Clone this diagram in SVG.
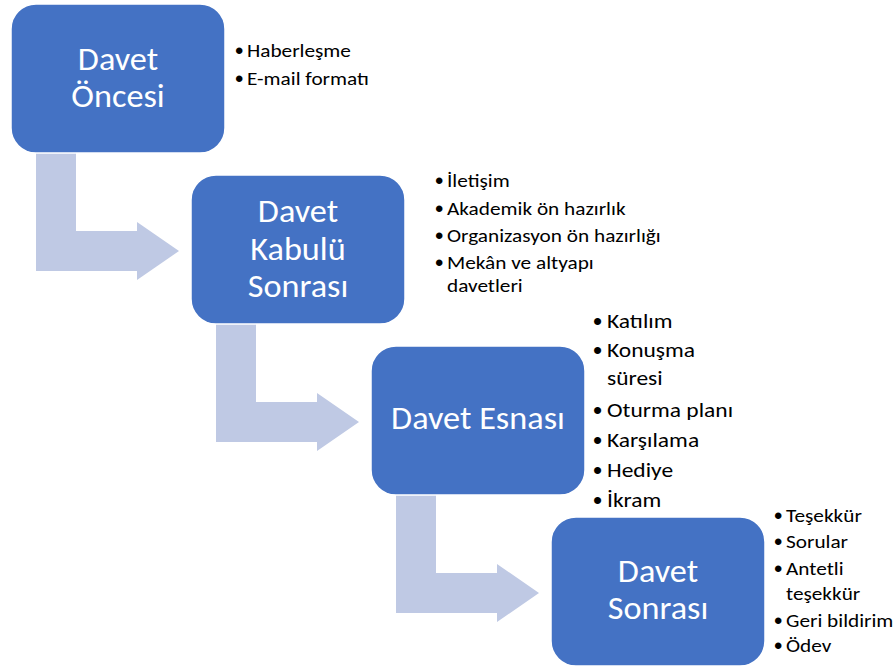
<svg xmlns="http://www.w3.org/2000/svg" width="893" height="670" viewBox="0 0 893 670">
  <style>
    .box { fill: #4472C4; stroke: #FFFFFF; stroke-width: 1.5; }
    .arrow { fill: #BFC9E4; }
    .title { font-family: Carlito, Calibri, Lato, "Liberation Sans", sans-serif; font-size: 32px; fill: #FFFFFF; text-anchor: middle; }
    .item { font-family: Carlito, Calibri, Lato, "Liberation Sans", sans-serif; fill: #000000; }
    .dot { font-family: "Liberation Sans", Arial, sans-serif; fill: #000000; font-size: 24px; }
    .s18 { font-size: 19px; }
    .s21 { font-size: 21px; }
  </style>
  <defs>
    <!-- bent step arrow, drawn from the lower-left of a box to the next box -->
    <path id="bend" d="M 25 146 V 267 H 126 V 276 L 168 247 L 126 218 V 227 H 65 V 146 Z"/>
  </defs>

  <g id="connectors">
    <use href="#bend" class="arrow" x="11" y="4"/>
    <use href="#bend" class="arrow" x="191" y="175"/>
    <use href="#bend" class="arrow" x="371" y="346"/>
  </g>

  <g id="step1">
    <rect class="box" x="11" y="4" width="214" height="149" rx="25"/>
    <g transform="translate(118,0) scale(1.07,1) translate(-118,0)">
      <text class="title" x="118" y="70">Davet</text>
      <text class="title" x="118" y="107">Öncesi</text>
    </g>
    <g class="dot">
      <text x="235" y="59">•</text>
      <text x="235" y="87">•</text>
    </g>
    <g class="item s18" transform="translate(247,0) scale(1.12,1) translate(-247,0)">
      <text x="247" y="57">Haberleşme</text>
      <text x="247" y="85">E-mail formatı</text>
    </g>
  </g>

  <g id="step2">
    <rect class="box" x="191" y="175" width="214" height="149" rx="25"/>
    <g transform="translate(298,0) scale(1.07,1) translate(-298,0)">
      <text class="title" x="298" y="222">Davet</text>
      <text class="title" x="298" y="260">Kabulü</text>
      <text class="title" x="298" y="297">Sonrası</text>
    </g>
    <g class="dot">
      <text x="435" y="189">•</text>
      <text x="435" y="217">•</text>
      <text x="435" y="244">•</text>
      <text x="435" y="271">•</text>
    </g>
    <g class="item s18" transform="translate(447,0) scale(1.12,1) translate(-447,0)">
      <text x="447" y="187">İletişim</text>
      <text x="447" y="215">Akademik ön hazırlık</text>
      <text x="447" y="242">Organizasyon ön hazırlığı</text>
      <text x="447" y="269">Mekân ve altyapı</text>
      <text x="447" y="292">davetleri</text>
    </g>
  </g>

  <g id="step3">
    <rect class="box" x="371" y="346" width="214" height="149" rx="25"/>
    <g transform="translate(478,0) scale(1.07,1) translate(-478,0)">
      <text class="title" x="478" y="429">Davet Esnası</text>
    </g>
    <g class="dot" style="font-size:26px">
      <text x="593" y="330">•</text>
      <text x="593" y="359">•</text>
      <text x="593" y="419">•</text>
      <text x="593" y="449">•</text>
      <text x="593" y="479">•</text>
      <text x="593" y="509">•</text>
    </g>
    <g class="item s21" transform="translate(607,0) scale(1.12,1) translate(-607,0)">
      <text x="607" y="328">Katılım</text>
      <text x="607" y="357">Konuşma</text>
      <text x="607" y="385">süresi</text>
      <text x="607" y="417">Oturma planı</text>
      <text x="607" y="447">Karşılama</text>
      <text x="607" y="477">Hediye</text>
      <text x="607" y="507">İkram</text>
    </g>
  </g>

  <g id="step4">
    <rect class="box" x="551" y="517" width="214" height="149" rx="25"/>
    <g transform="translate(658,0) scale(1.07,1) translate(-658,0)">
      <text class="title" x="658" y="582">Davet</text>
      <text class="title" x="658" y="619">Sonrası</text>
    </g>
    <g class="dot">
      <text x="774" y="524">•</text>
      <text x="774" y="550">•</text>
      <text x="774" y="577">•</text>
      <text x="774" y="629">•</text>
      <text x="774" y="654">•</text>
    </g>
    <g class="item s18" transform="translate(786,0) scale(1.12,1) translate(-786,0)">
      <text x="786" y="522">Teşekkür</text>
      <text x="786" y="548">Sorular</text>
      <text x="786" y="575">Antetli</text>
      <text x="786" y="600">teşekkür</text>
      <text x="786" y="627">Geri bildirim</text>
      <text x="786" y="652">Ödev</text>
    </g>
  </g>
</svg>
